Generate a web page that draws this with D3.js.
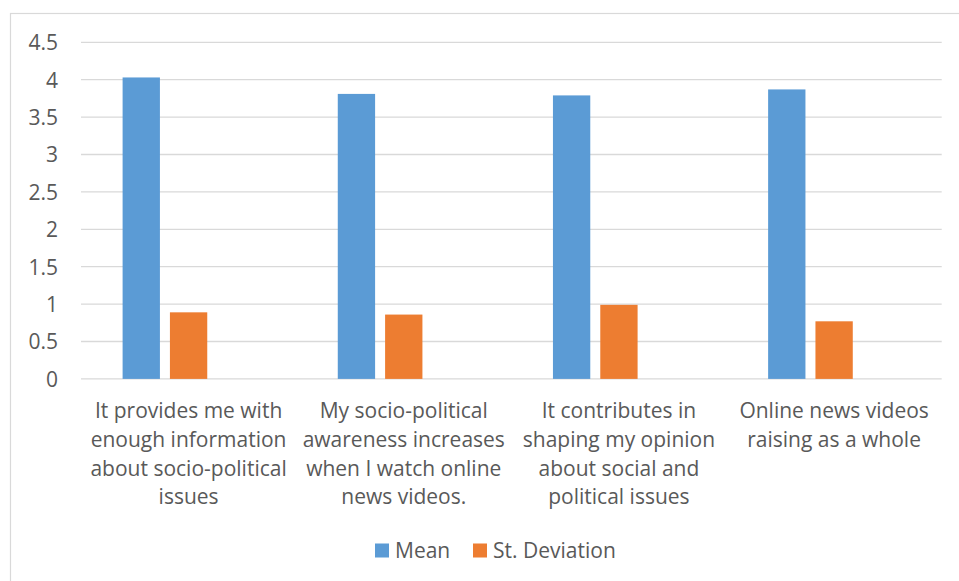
<!DOCTYPE html>
<html>
<head>
<meta charset="utf-8">
<script src="https://cdn.jsdelivr.net/npm/d3@7"></script>
<style>
  html, body { margin: 0; padding: 0; background: #fff; }
  svg { display: block; }
  text { font-family: "Open Sans", "Noto Sans", sans-serif; fill: #595959; }
</style>
</head>
<body>
<svg id="chart" width="959" height="581"></svg>
<script>
// Survey items (x categories), one label line per entry
const categories = [
  ["It provides me with", "enough information", "about socio-political", "issues"],
  ["My socio-political", "awareness increases", "when I watch online", "news videos."],
  ["It contributes in", "shaping my opinion", "about social and", "political issues"],
  ["Online news videos", "raising as a whole"]
];
const seriesNames = ["Mean", "St. Deviation"];
const meanValues = [4.03, 3.81, 3.79, 3.87];
const sdValues = [0.89, 0.86, 0.99, 0.77];
const yTicks = [0, 0.5, 1, 1.5, 2, 2.5, 3, 3.5, 4, 4.5];
const colors = ["#5b9bd5", "#ed7d31"];

const FS = 21;
const svg = d3.select("#chart");

// outer chart frame
svg.append("rect")
  .attr("x", 10.5).attr("y", 13.5)
  .attr("width", 960).attr("height", 580)
  .attr("fill", "#fff").attr("stroke", "#d9d9d9").attr("stroke-width", 1.2);

const plot = { left: 81, right: 941.7, top: 42.3, bottom: 378.9 };

const y = d3.scaleLinear().domain([0, 4.5]).range([plot.bottom, plot.top]);
const x = d3.scaleBand()
  .domain(d3.range(categories.length))
  .range([plot.left, plot.right]);
// three bar slots per category; the last slot stays empty
const inner = d3.scaleBand()
  .domain(d3.range(3))
  .range([41.6, x.bandwidth() - 41.6])
  .paddingInner(10 / 47.3)
  .paddingOuter(0);

// gridlines
svg.append("g").selectAll("line").data(yTicks).join("line")
  .attr("x1", plot.left).attr("x2", plot.right)
  .attr("y1", d => y(d)).attr("y2", d => y(d))
  .attr("stroke", "#d9d9d9").attr("stroke-width", 1.3);

// y axis labels
const yAxis = d3.axisLeft(y).tickValues(yTicks).tickSize(0).tickPadding(0)
  .tickFormat(d3.format("~g"));
const ya = svg.append("g").attr("transform", "translate(58,0)").call(yAxis);
ya.select(".domain").remove();
ya.selectAll("text")
  .attr("font-size", FS).attr("font-family", null).attr("fill", "#595959")
  .attr("dy", "0.35em");

// bars
const seriesData = [meanValues, sdValues];
seriesData.forEach((vals, si) => {
  svg.append("g").selectAll("rect").data(vals).join("rect")
    .attr("x", (d, i) => x(i) + inner(si))
    .attr("width", inner.bandwidth())
    .attr("y", d => y(d))
    .attr("height", d => y(0) - y(d))
    .attr("fill", colors[si]);
});

// x category labels
const xl = svg.append("g");
categories.forEach((lines, i) => {
  const cx = x(i) + x.bandwidth() / 2;
  const t = xl.append("text")
    .attr("text-anchor", "middle")
    .attr("font-size", FS)
    .attr("x", cx)
    .attr("y", 418);
  lines.forEach((ln, k) => {
    t.append("tspan")
      .attr("x", cx)
      .attr("dy", k === 0 ? 0 : 28.8)
      .text(ln);
  });
});

// legend
const legendPos = [{ sx: 375, tx: 395 }, { sx: 473, tx: 493 }];
const lg = svg.append("g");
seriesNames.forEach((name, i) => {
  lg.append("rect")
    .attr("x", legendPos[i].sx).attr("y", 543.5)
    .attr("width", 14).attr("height", 14)
    .attr("fill", colors[i]);
  lg.append("text")
    .attr("x", legendPos[i].tx).attr("y", 558)
    .attr("font-size", FS)
    .text(name);
});
</script>
</body>
</html>
